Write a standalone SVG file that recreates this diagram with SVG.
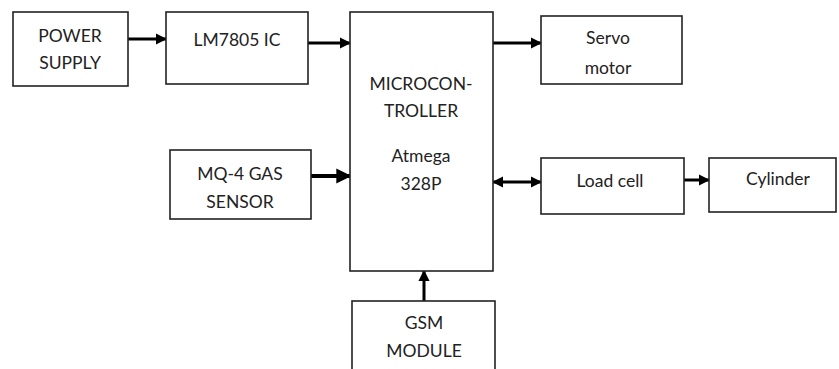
<svg xmlns="http://www.w3.org/2000/svg" width="839" height="369" viewBox="0 0 839 369">
<style>
.box{fill:#fff;stroke:#222;stroke-width:1.6}
.t{font-family:Lato,"Liberation Sans",sans-serif;font-size:17.5px;fill:#222;text-anchor:middle;dominant-baseline:central}
.c{stroke:#000;stroke-width:3;fill:none}
</style>
<defs>
<marker id="ah" viewBox="0 0 10 10" refX="9" refY="5" markerWidth="3.8" markerHeight="3.8" orient="auto-start-reverse" markerUnits="strokeWidth">
<path d="M0,0 L10,5 L0,10 z" fill="#000"/>
</marker>
</defs>
<rect width="839" height="369" fill="#fff"/>
<g id="connectors">
<line class="c" x1="128" y1="39" x2="166" y2="39" marker-end="url(#ah)"/>
<line class="c" x1="308" y1="43" x2="350" y2="43" marker-end="url(#ah)"/>
<line class="c" x1="493" y1="43" x2="541" y2="43" marker-end="url(#ah)"/>
<line class="c" x1="311" y1="176" x2="350" y2="176" style="stroke-width:4" marker-end="url(#ah)"/>
<line class="c" x1="493" y1="182" x2="541" y2="182" marker-start="url(#ah)" marker-end="url(#ah)"/>
<line class="c" x1="684" y1="180" x2="709" y2="180" marker-end="url(#ah)"/>
<line class="c" x1="424" y1="301" x2="424" y2="271" marker-end="url(#ah)"/>
</g>
<g id="power">
<rect class="box" x="13" y="12" width="115" height="74"/>
<text class="t" x="70" y="35">POWER</text>
<text class="t" x="70" y="62">SUPPLY</text>
</g>
<g id="lm7805">
<rect class="box" x="166" y="12" width="142" height="72"/>
<text class="t" x="237" y="39">LM7805 IC</text>
</g>
<g id="mcu">
<rect class="box" x="350" y="12" width="143" height="259"/>
<text class="t" x="421" y="83">MICROCON-</text>
<text class="t" x="421" y="110">TROLLER</text>
<text class="t" x="421" y="155">Atmega</text>
<text class="t" x="421" y="183">328P</text>
</g>
<g id="servo">
<rect class="box" x="541" y="16" width="141" height="68"/>
<text class="t" x="608" y="37">Servo</text>
<text class="t" x="608" y="67">motor</text>
</g>
<g id="mq4">
<rect class="box" x="170" y="150" width="141" height="69"/>
<text class="t" x="240" y="173">MQ-4 GAS</text>
<text class="t" x="240" y="201">SENSOR</text>
</g>
<g id="loadcell">
<rect class="box" x="541" y="158" width="143" height="56"/>
<text class="t" x="610" y="180">Load cell</text>
</g>
<g id="cylinder">
<rect class="box" x="709" y="158" width="127" height="54"/>
<text class="t" x="778" y="178">Cylinder</text>
</g>
<g id="gsm">
<rect class="box" x="352" y="301" width="143" height="80"/>
<text class="t" x="424" y="322">GSM</text>
<text class="t" x="424" y="350">MODULE</text>
</g>
</svg>
